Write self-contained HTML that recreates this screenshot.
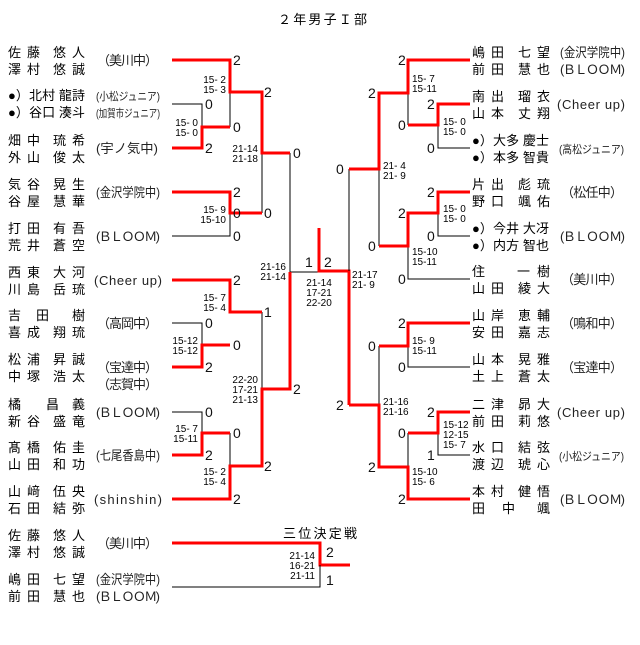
<!DOCTYPE html>
<html><head><meta charset="utf-8"><style>
html,body{margin:0;padding:0;background:#fff;}
svg{display:block}
.n{font-family:"Liberation Sans","Noto Sans CJK JP",sans-serif;font-size:13px;fill:#000}
.t{font-family:"Liberation Sans","Noto Sans CJK JP",sans-serif;font-size:13px;fill:#222}
.ts{font-family:"Liberation Sans","Noto Sans CJK JP",sans-serif;font-size:11px;fill:#222}
.s{font-family:"Liberation Sans",sans-serif;font-size:14px;fill:#111}
.l{font-family:"Liberation Sans",sans-serif;font-size:10px;fill:#000;white-space:pre}
.r{stroke:#f00;stroke-width:3;fill:none}
.b{stroke:#000;stroke-width:1;fill:none}
</style></head><body>
<svg width="640" height="645" xmlns="http://www.w3.org/2000/svg">
<text class="n" x="278" y="24" textLength="89" lengthAdjust="spacing">２年男子Ｉ部</text>

<!-- LEFT NAMES -->
<g class="n">
<text x="8 27 53 72" y="57">佐藤悠人</text><text x="8 27 53 72" y="74">澤村悠誠</text>
<text x="8" y="100" textLength="77" lengthAdjust="spacing">●）北村 龍詩</text><text x="8" y="117" textLength="77" lengthAdjust="spacing">●）谷口 湊斗</text>
<text x="8 27 53 72" y="145">畑中琉希</text><text x="8 27 53 72" y="162">外山俊太</text>
<text x="8 27 53 72" y="189">気谷晃生</text><text x="8 27 53 72" y="206">谷屋慧華</text>
<text x="8 27 53 72" y="233">打田有吾</text><text x="8 27 53 72" y="250">荒井蒼空</text>
<text x="8 27 53 72" y="277">西東大河</text><text x="8 27 53 72" y="294">川島岳琉</text>
<text x="8 36 72" y="320">吉田樹</text><text x="8 27 53 72" y="337">喜成翔琉</text>
<text x="8 27 53 72" y="364">松浦昇誠</text><text x="8 27 53 72" y="381">中塚浩太</text>
<text x="8 46 72" y="409">橘昌義</text><text x="8 27 53 72" y="426">新谷盛竜</text>
<text x="8 27 53 72" y="452">髙橋佑圭</text><text x="8 27 53 72" y="469">山田和功</text>
<text x="8 27 53 72" y="496">山﨑伍央</text><text x="8 27 53 72" y="513">石田結弥</text>
<text x="8 27 53 72" y="540">佐藤悠人</text><text x="8 27 53 72" y="557">澤村悠誠</text>
<text x="8 27 53 72" y="584">嶋田七望</text><text x="8 27 53 72" y="601">前田慧也</text>
</g>
<g class="t">
<text x="97" y="65" textLength="61" lengthAdjust="spacing">（美川中）</text>
<text class="ts" x="96" y="100" textLength="64" lengthAdjust="spacingAndGlyphs">(小松ジュニア)</text>
<text class="ts" x="96" y="117" textLength="64" lengthAdjust="spacingAndGlyphs">(加賀市ジュニア)</text>
<text x="96" y="153" textLength="62" lengthAdjust="spacingAndGlyphs">(宇ノ気中)</text>
<text x="96" y="197" textLength="64" lengthAdjust="spacingAndGlyphs">(金沢学院中)</text>
<text x="96" y="241" textLength="64" lengthAdjust="spacing">(ＢＬＯＯＭ)</text>
<text x="94" y="285" textLength="68" lengthAdjust="spacing">(Cheer up)</text>
<text x="97" y="328" textLength="61" lengthAdjust="spacing">（高岡中）</text>
<text x="97" y="372" textLength="61" lengthAdjust="spacing">（宝達中）</text>
<text x="97" y="389" textLength="61" lengthAdjust="spacing">（志賀中）</text>
<text x="96" y="417" textLength="64" lengthAdjust="spacing">(ＢＬＯＯＭ)</text>
<text x="96" y="460" textLength="64" lengthAdjust="spacingAndGlyphs">(七尾香島中)</text>
<text x="94" y="504" textLength="68" lengthAdjust="spacing">(shinshin)</text>
<text x="97" y="548" textLength="61" lengthAdjust="spacing">（美川中）</text>
<text x="96" y="584" textLength="64" lengthAdjust="spacingAndGlyphs">(金沢学院中)</text>
<text x="96" y="601" textLength="64" lengthAdjust="spacing">(ＢＬＯＯＭ)</text>
</g>

<!-- RIGHT NAMES -->
<g class="n">
<text x="472 491 518 537" y="57">嶋田七望</text><text x="472 491 518 537" y="74">前田慧也</text>
<text x="472 491 518 537" y="101">南出瑠衣</text><text x="472 491 518 537" y="118">山本丈翔</text>
<text x="472" y="145" textLength="77" lengthAdjust="spacing">●）大多 慶士</text><text x="472" y="162" textLength="77" lengthAdjust="spacing">●）本多 智貴</text>
<text x="472 491 518 537" y="189">片出彪琉</text><text x="472 491 518 537" y="206">野口颯佑</text>
<text x="472" y="233" textLength="77" lengthAdjust="spacing">●）今井 大冴</text><text x="472" y="250" textLength="77" lengthAdjust="spacing">●）内方 智也</text>
<text x="472 517 537" y="276">住一樹</text><text x="472 491 518 537" y="293">山田綾大</text>
<text x="472 491 518 537" y="320">山岸恵輔</text><text x="472 491 518 537" y="337">安田嘉志</text>
<text x="472 491 518 537" y="364">山本晃雅</text><text x="472 491 518 537" y="381">土上蒼太</text>
<text x="472 491 518 537" y="409">二津昴大</text><text x="472 491 518 537" y="426">前田莉悠</text>
<text x="472 491 518 537" y="452">水口結弦</text><text x="472 491 518 537" y="469">渡辺琥心</text>
<text x="472 491 518 537" y="496">本村健悟</text><text x="472 502 537" y="513">田中颯</text>
</g>
<g class="t">
<text x="560" y="57" textLength="65" lengthAdjust="spacingAndGlyphs">(金沢学院中)</text>
<text x="560" y="74" textLength="65" lengthAdjust="spacing">(ＢＬＯＯＭ)</text>
<text x="557" y="109" textLength="68" lengthAdjust="spacing">(Cheer up)</text>
<text class="ts" x="559" y="153" textLength="65" lengthAdjust="spacingAndGlyphs">(高松ジュニア)</text>
<text x="561" y="197" textLength="62" lengthAdjust="spacing">（松任中）</text>
<text x="560" y="241" textLength="65" lengthAdjust="spacing">(ＢＬＯＯＭ)</text>
<text x="561" y="284" textLength="62" lengthAdjust="spacing">（美川中）</text>
<text x="561" y="328" textLength="62" lengthAdjust="spacing">（鳴和中）</text>
<text x="561" y="372" textLength="62" lengthAdjust="spacing">（宝達中）</text>
<text x="557" y="417" textLength="68" lengthAdjust="spacing">(Cheer up)</text>
<text class="ts" x="559" y="460" textLength="65" lengthAdjust="spacingAndGlyphs">(小松ジュニア)</text>
<text x="560" y="504" textLength="65" lengthAdjust="spacing">(ＢＬＯＯＭ)</text>
</g>

<!-- LEFT BRACKET LINES -->
<path class="b" d="M172 104H202V127 M230 92V127 M172 323H202V345 M230 280V312 M172 412H202V433 M230 433V466 M230 192V236H172 M262 153V213 M262 312V389 M290 153V272 M290 272H319"/>
<path class="r" d="M172 60H230V92H262V153H290 M172 148H202V127H230 M172 192H230V213H262 M172 280H230V312H262 M172 367H202V345H230 M172 455H202V433H230 M172 499H230V466H262V389H290V272"/>
<!-- CENTER -->
<path class="r" d="M319 228V271H349V405"/>
<!-- RIGHT -->
<path class="b" d="M349 271V169 M408 93V125 M438 125V148H470 M379 169V246 M438 213V236H470 M408 246V279H470 M408 346V367H470 M379 346V405 M408 433V467 M438 433V455H470"/>
<path class="r" d="M470 60H408V93H379V169H349 M470 104H438V125H408 M470 192H438V213H408V246H379 M470 323H408V346H379 M349 405H379V467H408V499H470 M470 412H438V433H408"/>
<!-- THIRD PLACE -->
<path class="r" d="M172 543H320V565H350"/>
<path class="b" d="M172 587H320V565"/>

<!-- SCORES -->
<g class="s">
<text x="233" y="65">2</text><text x="233" y="132">0</text><text x="205" y="109">0</text><text x="205" y="153">2</text>
<text x="264" y="97">2</text><text x="264" y="218">0</text><text x="293" y="158">0</text>
<text x="233" y="197">2</text><text x="233" y="218">0</text><text x="233" y="241">0</text>
<text x="233" y="285">2</text><text x="233" y="350">0</text><text x="205" y="328">0</text><text x="205" y="372">2</text>
<text x="264" y="317">1</text>
<text x="205" y="417">0</text><text x="205" y="460">2</text><text x="233" y="438">0</text><text x="233" y="504">2</text>
<text x="264" y="471">2</text><text x="293" y="394">2</text>
<text x="305" y="267">1</text><text x="324" y="267">2</text>
<text x="368" y="98">2</text><text x="336" y="174">0</text><text x="398" y="65">2</text><text x="398" y="130">0</text>
<text x="427" y="109">2</text><text x="427" y="153">0</text>
<text x="427" y="197">2</text><text x="427" y="241">0</text><text x="398" y="218">2</text><text x="368" y="251">0</text><text x="398" y="284">0</text>
<text x="398" y="328">2</text><text x="398" y="372">0</text><text x="368" y="351">0</text><text x="336" y="410">2</text>
<text x="427" y="417">2</text><text x="427" y="460">1</text><text x="398" y="438">0</text><text x="368" y="472">2</text><text x="398" y="504">2</text>
<text x="326" y="557">2</text><text x="326" y="585">1</text>
</g>
<text class="n" x="283" y="538" textLength="74" lengthAdjust="spacing">三位決定戦</text>

<!-- SCORE LABELS -->
<g class="l" text-anchor="end" xml:space="preserve">
<text x="226" y="83">15- 2</text><text x="226" y="93">15- 3</text>
<text x="198" y="126">15- 0</text><text x="198" y="136">15- 0</text>
<text x="258" y="152">21-14</text><text x="258" y="162">21-18</text>
<text x="226" y="213">15- 9</text><text x="226" y="223">15-10</text>
<text x="286" y="270">21-16</text><text x="286" y="280">21-14</text>
<text x="226" y="301">15- 7</text><text x="226" y="311">15- 4</text>
<text x="198" y="344">15-12</text><text x="198" y="354">15-12</text>
<text x="258" y="383">22-20</text><text x="258" y="393">17-21</text><text x="258" y="403">21-13</text>
<text x="198" y="432">15- 7</text><text x="198" y="442">15-11</text>
<text x="226" y="475">15- 2</text><text x="226" y="485">15- 4</text>
<text x="315" y="559">21-14</text><text x="315" y="569">16-21</text><text x="315" y="579">21-11</text>
</g>
<g class="l" text-anchor="middle" xml:space="preserve">
<text x="319" y="286">21-14</text><text x="319" y="296">17-21</text><text x="319" y="306">22-20</text>
</g>
<g class="l" xml:space="preserve">
<text x="412" y="82">15- 7</text><text x="412" y="92">15-11</text>
<text x="443" y="125">15- 0</text><text x="443" y="135">15- 0</text>
<text x="383" y="169">21- 4</text><text x="383" y="179">21- 9</text>
<text x="443" y="212">15- 0</text><text x="443" y="222">15- 0</text>
<text x="412" y="255">15-10</text><text x="412" y="265">15-11</text>
<text x="352" y="278">21-17</text><text x="352" y="288">21- 9</text>
<text x="412" y="344">15- 9</text><text x="412" y="354">15-11</text>
<text x="383" y="405">21-16</text><text x="383" y="415">21-16</text>
<text x="443" y="428">15-12</text><text x="443" y="438">12-15</text><text x="443" y="448">15- 7</text>
<text x="412" y="475">15-10</text><text x="412" y="485">15- 6</text>
</g>
</svg>
</body></html>
